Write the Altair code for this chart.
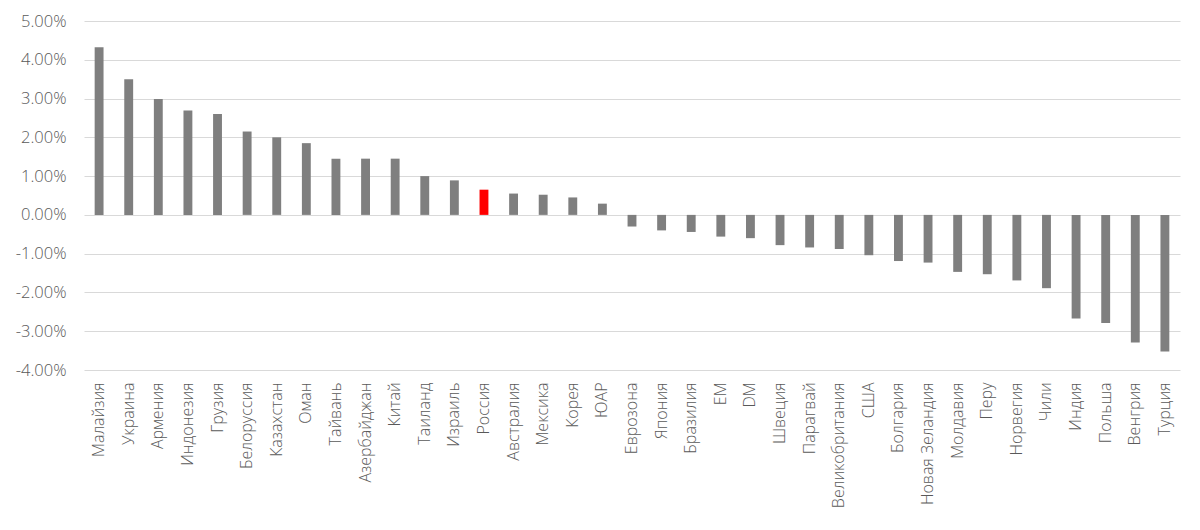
import altair as alt
import pandas as pd

countries = ["Малайзия", "Украина", "Армения", "Индонезия", "Грузия", "Белоруссия",
             "Казахстан", "Оман", "Тайвань", "Азербайджан", "Китай", "Таиланд",
             "Израиль", "Россия", "Австралия", "Мексика", "Корея", "ЮАР", "Еврозона",
             "Япония", "Бразилия", "EM", "DM", "Швеция", "Парагвай", "Великобритания",
             "США", "Болгария", "Новая Зеландия", "Молдавия", "Перу", "Норвегия",
             "Чили", "Индия", "Польша", "Венгрия", "Турция"]
values = [4.32, 3.50, 2.99, 2.69, 2.60, 2.15,
          2.00, 1.85, 1.45, 1.45, 1.45, 1.00,
          0.89, 0.65, 0.55, 0.52, 0.45, 0.29, -0.30,
          -0.40, -0.44, -0.56, -0.60, -0.78, -0.84, -0.88,
          -1.04, -1.19, -1.23, -1.47, -1.53, -1.69,
          -1.89, -2.67, -2.79, -3.29, -3.52]
highlight = "Россия"
y_ticks = [-4, -3, -2, -1, 0, 1, 2, 3, 4, 5]

df = pd.DataFrame({"country": countries, "value": values})
df["hl"] = df["country"] == highlight

FONT = "Open Sans"

chart = alt.Chart(df).mark_bar().encode(
    x=alt.X("country:N", sort=countries, title=None,
            scale=alt.Scale(paddingInner=0.7, paddingOuter=0.36),
            axis=alt.Axis(labelAngle=-90, labelFont=FONT, labelFontSize=16,
                          labelFontWeight=300,
                          labelColor="#595959", labelPadding=12, ticks=False,
                          domain=False, grid=False, labelLimit=300)),
    y=alt.Y("value:Q", title=None,
            scale=alt.Scale(domain=[-4, 5], nice=False),
            axis=alt.Axis(values=y_ticks, labelFont=FONT, labelFontSize=16.5,
                          labelFontWeight=300,
                          labelColor="#595959", labelPadding=18, ticks=False,
                          domain=False, gridColor="#d9d9d9", gridWidth=1,
                          labelExpr="(datum.value < 0 ? '-' : '') + format(abs(datum.value), '.2f') + '%'")),
    color=alt.Color("hl:N", scale=alt.Scale(domain=[False, True], range=["#7f7f7f", "#ff0000"]),
                    legend=None),
).properties(
    width=1096, height=349,
    autosize=alt.AutoSizeParams(type="none"),
    padding={"left": 76, "top": 13, "right": 10, "bottom": 150},
).configure_view(stroke=None)

chart.save("out.html", embed_options={"renderer": "svg", "actions": False})
